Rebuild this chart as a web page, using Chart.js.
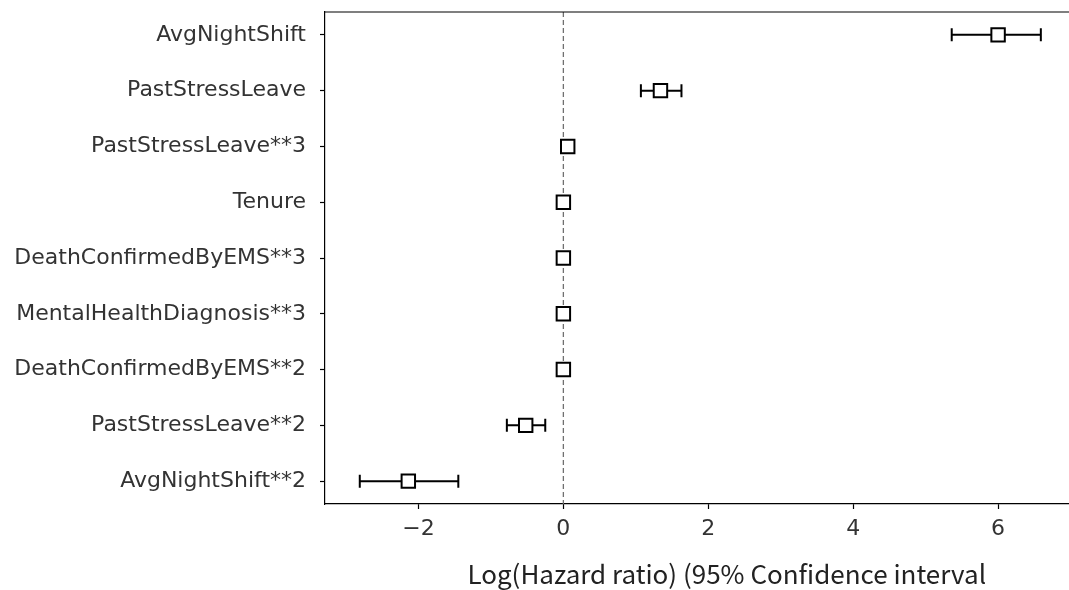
<!DOCTYPE html>
<html>
<head>
<meta charset="utf-8">
<script src="https://cdn.jsdelivr.net/npm/chart.js@4.4.0/dist/chart.umd.min.js"></script>
<style>
  html, body { margin: 0; padding: 0; background: #fff; overflow: hidden; }
  #wrap { width: 1140px; height: 590px; }
</style>
</head>
<body>
<div id="wrap"><canvas id="forest"></canvas></div>
<script>
// covariates, top to bottom
const covariates = ['AvgNightShift', 'PastStressLeave', 'PastStressLeave**3', 'Tenure',
  'DeathConfirmedByEMS**3', 'MentalHealthDiagnosis**3', 'DeathConfirmedByEMS**2',
  'PastStressLeave**2', 'AvgNightShift**2'];
const coef = [6.0, 1.34, 0.06, 0.0, 0.0, 0.0, 0.0, -0.52, -2.14];
const lower = [5.36, 1.07, 0.04, -0.01, -0.01, -0.01, -0.01, -0.78, -2.81];
const upper = [6.59, 1.63, 0.08, 0.01, 0.01, 0.01, 0.01, -0.25, -1.45];
const xTicks = [-2, 0, 2, 4, 6];

const labelFont = { family: 'DejaVu Sans', size: 22 };

// whiskers, top frame line and zero reference line
const forestExtras = {
  id: 'forestExtras',
  beforeDatasetsDraw(chart) {
    const { ctx, chartArea, scales: { x, y } } = chart;
    ctx.save();
    // dashed line at 0
    const x0 = x.getPixelForValue(0);
    ctx.strokeStyle = '#707070';
    ctx.lineWidth = 1.3;
    ctx.setLineDash([5, 3]);
    ctx.beginPath();
    ctx.moveTo(x0, chartArea.top);
    ctx.lineTo(x0, chartArea.bottom);
    ctx.stroke();
    ctx.setLineDash([]);
    // error bars
    ctx.strokeStyle = '#000';
    ctx.lineWidth = 2;
    covariates.forEach((c, i) => {
      const yy = y.getPixelForValue(i);
      const xl = x.getPixelForValue(lower[i]);
      const xu = x.getPixelForValue(upper[i]);
      ctx.beginPath();
      ctx.moveTo(xl, yy); ctx.lineTo(xu, yy);
      if (upper[i] - lower[i] > 0.1) {
        ctx.moveTo(xl, yy - 6.5); ctx.lineTo(xl, yy + 6.5);
        ctx.moveTo(xu, yy - 6.5); ctx.lineTo(xu, yy + 6.5);
      }
      ctx.stroke();
    });
    // top spine
    ctx.strokeStyle = '#000';
    ctx.lineWidth = 1.2;
    ctx.beginPath();
    ctx.moveTo(chartArea.left, chartArea.top);
    ctx.lineTo(chartArea.right, chartArea.top);
    ctx.stroke();
    ctx.restore();
  }
};

new Chart(document.getElementById('forest'), {
  type: 'scatter',
  data: {
    datasets: [{
      data: coef.map((v, i) => ({ x: v, y: i })),
      pointStyle: 'rect',
      pointRadius: 9.5,
      pointHoverRadius: 9.5,
      backgroundColor: '#fff',
      borderColor: '#000',
      borderWidth: 2
    }]
  },
  plugins: [forestExtras],
  options: {
    responsive: true,
    maintainAspectRatio: false,
    animation: false,
    layout: { padding: { top: 12, right: 5, bottom: 0, left: 0 } },
    plugins: { legend: { display: false }, tooltip: { enabled: false } },
    scales: {
      x: {
        type: 'linear',
        min: -3.29,
        max: 7.8,
        afterBuildTicks: axis => { axis.ticks = xTicks.map(v => ({ value: v })); },
        afterFit: axis => { axis.height = 86; axis.paddingLeft = 0; axis.paddingRight = 0; },
        grid: { drawOnChartArea: false, tickLength: 5, color: '#000', tickWidth: 1.2 },
        border: { color: '#000', width: 1.2 },
        ticks: {
          color: '#333', font: labelFont, padding: 7,
          callback: v => (v < 0 ? '\u2212' + Math.abs(v) : String(v))
        },
        title: {
          display: true,
          text: 'Log(Hazard ratio) (95% Confidence interval',
          color: '#222',
          font: { family: 'Noto Sans CJK SC', size: 26 },
          padding: { top: 0, bottom: 0 }
        }
      },
      y: {
        type: 'linear',
        reverse: true,
        min: -0.41,
        max: covariates.length - 1 + 0.41,
        afterBuildTicks: axis => { axis.ticks = covariates.map((c, i) => ({ value: i })); },
        afterFit: axis => { axis.width = 325; axis.paddingTop = 0; axis.paddingBottom = 0; },
        grid: { drawOnChartArea: false, tickLength: 5, color: '#000', tickWidth: 1.2 },
        border: { color: '#000', width: 1.2 },
        ticks: {
          color: '#333', font: labelFont, padding: 14,
          callback: v => covariates[v]
        }
      }
    }
  }
});
</script>
</body>
</html>
